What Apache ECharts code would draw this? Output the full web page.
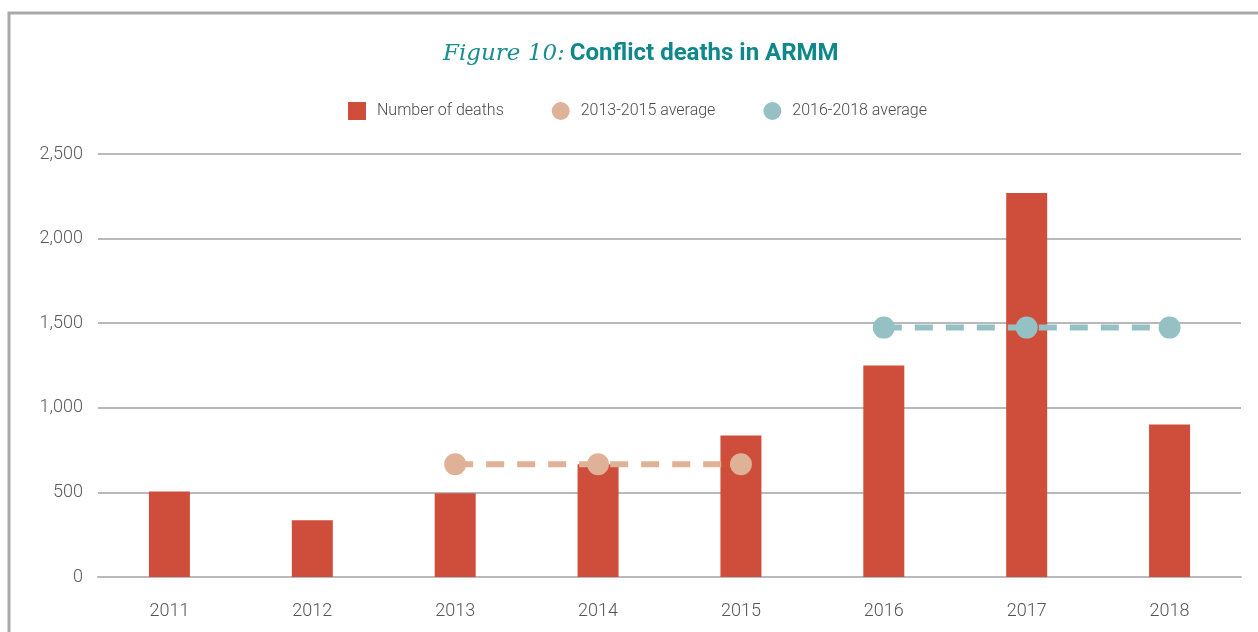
<!DOCTYPE html>
<html style="height: 100%">
	<head>
		<meta charset="utf-8">
	</head>
	<body style="height: 100%; margin: 0; background: #fff">
		<div id="container" style="width: 1258px; height: 632px"></div>
		<script type="text/javascript" src="https://cdn.jsdelivr.net/npm/echarts@6/dist/echarts.min.js"></script>
		<script type="text/javascript">
			var years = ['2011', '2012', '2013', '2014', '2015', '2016', '2017', '2018'];
			var deaths = [505, 336, 495, 666, 837, 1250, 2270, 902];
			var avg2013to2015 = [null, null, 666, 666, 666, null, null, null];
			var avg2016to2018 = [null, null, null, null, null, 1474, 1474, 1474];
			var yTicks = [0, 500, 1000, 1500, 2000, 2500];

			var dom = document.getElementById('container');
			var myChart = echarts.init(dom);

			var option = {
				backgroundColor: '#fff',
				animation: false,
				graphic: [{
					type: 'rect',
					shape: { x: 9, y: 13, width: 1400, height: 800 },
					style: { fill: 'none', stroke: '#a9a9ae', lineWidth: 3 }
				}],
				title: {
					text: '{fig|Figure 10:} {main|Conflict deaths in ARMM}',
					left: 438,
					top: 37,
					textStyle: {
						rich: {
							fig: {
								fontFamily: 'DejaVu Serif',
								fontStyle: 'italic',
								fontWeight: 'normal',
								fontSize: 23,
								color: '#1a8d8e'
							},
							main: {
								fontFamily: 'Roboto',
								fontWeight: 'bold',
								fontSize: 24,
								color: '#10878a'
							}
						}
					}
				},
				legend: {
					left: 348,
					top: 102,
					padding: 0,
					itemGap: 48,
					itemWidth: 18,
					itemHeight: 18,
					textStyle: {
						fontFamily: 'Roboto',
						fontWeight: 300,
						fontSize: 16,
						color: '#4a4a4a',
						padding: [0, 0, 0, 6]
					},
					data: [
						{ name: 'Number of deaths', icon: 'rect' },
						{ name: '2013-2015 average', icon: 'circle' },
						{ name: '2016-2018 average', icon: 'circle' }
					]
				},
				grid: {
					left: 98,
					right: 17,
					top: 154,
					bottom: 55,
					containLabel: false
				},
				xAxis: {
					type: 'category',
					data: years,
					axisLine: { show: true, lineStyle: { color: '#b9b9bd', width: 2 } },
					axisTick: { show: false },
					axisLabel: {
						margin: 25,
						fontFamily: 'Roboto',
						fontWeight: 300,
						fontSize: 18,
						color: '#555'
					}
				},
				yAxis: {
					type: 'value',
					min: yTicks[0],
					max: yTicks[yTicks.length - 1],
					interval: 500,
					axisLine: { show: false },
					axisTick: { show: false },
					splitLine: { lineStyle: { color: '#b9b9bd', width: 2 } },
					axisLabel: {
						margin: 15,
						fontFamily: 'Roboto',
						fontWeight: 300,
						fontSize: 18,
						color: '#5a5a5a',
						formatter: function (v) {
							return v.toLocaleString('en-US');
						}
					}
				},
				series: [{
					name: 'Number of deaths',
					type: 'bar',
					data: deaths,
					barWidth: 41,
					itemStyle: { color: '#cf4e3b' },
					z: 2
				}, {
					name: '2013-2015 average',
					type: 'line',
					data: avg2013to2015,
					symbol: 'circle',
					symbolSize: 22,
					itemStyle: { color: '#dfb196' },
					lineStyle: { color: '#dfb196', width: 6, type: [18, 13] },
					z: 3
				}, {
					name: '2016-2018 average',
					type: 'line',
					data: avg2016to2018,
					symbol: 'circle',
					symbolSize: 22,
					itemStyle: { color: '#95c1c5' },
					lineStyle: { color: '#95c1c5', width: 6, type: [18, 13] },
					z: 3
				}]
			};

			myChart.setOption(option);
		</script>
	</body>
</html>
